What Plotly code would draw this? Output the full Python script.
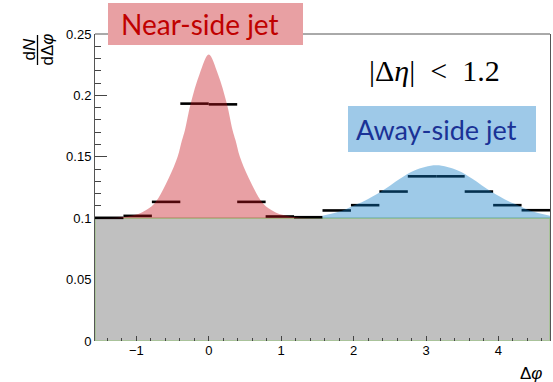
import numpy as np
import plotly.graph_objects as go

# ---- data -------------------------------------------------------------
PHI_MIN, PHI_MAX = -np.pi / 2, 3 * np.pi / 2
N_BINS = 16
PEDESTAL = 0.1

# per-bin correlation yield (black steps)
BIN_VALUES = [0.1003, 0.1019, 0.1133, 0.1933, 0.1927, 0.1133, 0.1014, 0.1008,
              0.1063, 0.1106, 0.1217, 0.1341, 0.1341, 0.1217, 0.1106, 0.1065]

# near-side peak shape
NEAR_X = [-1.571, -1.2, -1.0, -0.9, -0.75, -0.55, -0.43, -0.37, -0.33, -0.25, -0.125, 0.0,
          0.125, 0.25, 0.33, 0.37, 0.43, 0.55, 0.75, 0.9, 1.0, 1.2, 1.571]
NEAR_Y = [0.1000, 0.1008, 0.1030, 0.1055, 0.1120, 0.1330, 0.1500, 0.1634, 0.1715, 0.1932, 0.2176, 0.2333,
          0.2176, 0.1932, 0.1715, 0.1634, 0.1500, 0.1330, 0.1120, 0.1055, 0.1030, 0.1008, 0.1000]

# away-side peak shape
AWAY_X = [1.571, 1.84, 2.01, 2.14, 2.38, 2.64, 2.84, 3.1416,
          3.44, 3.64, 3.90, 4.14, 4.27, 4.44, 4.712]
AWAY_Y = [0.1020, 0.1060, 0.1106, 0.1138, 0.1217, 0.1322, 0.1389, 0.1431,
          0.1389, 0.1322, 0.1217, 0.1138, 0.1106, 0.1060, 0.1020]

Y_TICKS = [0, 0.05, 0.1, 0.15, 0.2, 0.25]
X_TICKS = [-1, 0, 1, 2, 3, 4]

# ---- layout helpers (pixel -> paper) ----------------------------------
W, H = 553, 382
ML, MR, MT, MB = 95, 3, 34, 41
PW, PH = W - ML - MR, H - MT - MB


def px(x):
    return (x - ML) / PW


def py(y):
    return (H - MB - y) / PH


fig = go.Figure()

# flat pedestal
fig.add_trace(go.Scatter(
    x=[PHI_MIN, PHI_MIN, PHI_MAX, PHI_MAX, PHI_MIN],
    y=[0, PEDESTAL, PEDESTAL, 0, 0],
    mode="lines", fill="toself", fillcolor="#c0c0c0",
    line=dict(color="#a2c48e", width=1.5), hoverinfo="skip"))

# histogram steps
edges = np.linspace(PHI_MIN, PHI_MAX, N_BINS + 1)
sx, sy = [], []
for i, v in enumerate(BIN_VALUES):
    sx += [edges[i], edges[i + 1], None]
    sy += [v, v, None]
fig.add_trace(go.Scatter(x=sx, y=sy, mode="lines",
                         line=dict(color="black", width=2.6), hoverinfo="skip"))

# near-side peak
fig.add_trace(go.Scatter(x=[NEAR_X[0], NEAR_X[-1]], y=[PEDESTAL, PEDESTAL],
                         mode="lines", line=dict(width=0), hoverinfo="skip"))
fig.add_trace(go.Scatter(x=NEAR_X, y=NEAR_Y, mode="lines", fill="tonexty",
                         fillcolor="rgba(198,18,28,0.4)",
                         line=dict(width=0, shape="spline", smoothing=1.0),
                         hoverinfo="skip"))

# away-side peak
fig.add_trace(go.Scatter(x=[AWAY_X[0], AWAY_X[-1]], y=[PEDESTAL, PEDESTAL],
                         mode="lines", line=dict(width=0), hoverinfo="skip"))
fig.add_trace(go.Scatter(x=AWAY_X, y=AWAY_Y, mode="lines", fill="tonexty",
                         fillcolor="rgba(13,123,198,0.4)",
                         line=dict(width=0, shape="spline", smoothing=1.0),
                         hoverinfo="skip"))

tick_font = dict(family="Liberation Sans, Arial, sans-serif", size=13, color="black")

fig.update_xaxes(
    range=[PHI_MIN, PHI_MAX], tickvals=X_TICKS, ticks="inside", ticklen=5,
    tickcolor="#444", tickwidth=1, showline=False, showgrid=False, zeroline=False,
    tickfont=tick_font, layer="above traces",
    minor=dict(dtick=0.2, tick0=0, ticks="inside", ticklen=3, tickcolor="#444"),
)
fig.update_yaxes(
    range=[0, 0.25], tickvals=Y_TICKS, ticks="inside", ticklen=12,
    tickcolor="#444", tickwidth=1, showline=True, linecolor="#555", linewidth=1,
    mirror=True, showgrid=False, zeroline=False, tickfont=tick_font,
    layer="below traces",
    minor=dict(dtick=0.01, tick0=0, ticks="inside", ticklen=6, tickcolor="#444"),
)

shapes = [
    # frame top
    dict(type="line", xref="paper", yref="paper", x0=0, x1=1, y0=1, y1=1,
         line=dict(color="#555", width=1)),
    # label boxes
    dict(type="rect", xref="paper", yref="paper", x0=px(108), x1=px(303),
         y0=py(45), y1=py(3), fillcolor="#e8a0a3", line=dict(width=0)),
    dict(type="rect", xref="paper", yref="paper", x0=px(348), x1=px(536),
         y0=py(152), y1=py(106), fillcolor="#9ec9e8", line=dict(width=0)),
    # fraction bar of the y title
    dict(type="line", xref="paper", yref="paper", x0=px(37.5), x1=px(37.5),
         y0=py(65), y1=py(35), line=dict(color="black", width=1.3)),
]


def label(text, x, y, font, **kw):
    return dict(text=text, x=px(x), y=py(y), xref="paper", yref="paper",
                xanchor=kw.pop("xanchor", "center"), yanchor="middle",
                showarrow=False, font=font, **kw)


annotations = [
    label("Near-side jet", 200, 24, dict(family="Lato", size=28, color="#c00000")),
    label("Away-side jet", 436, 129, dict(family="Lato", size=27, color="#1a3296")),
    label("|Δ<i>η</i>|&nbsp;&nbsp;<&nbsp;&nbsp;1.2", 434, 70,
          dict(family="Liberation Serif", size=30, color="black")),
    label("d<i>N</i>", 28.5, 50, dict(family="Liberation Sans", size=17, color="black"),
          textangle=-90),
    label("dΔ<i>φ</i>", 46.5, 50, dict(family="Liberation Sans", size=17, color="black"),
          textangle=-90),
    label("Δ<i>φ</i>", 544, 373, dict(family="Liberation Sans", size=17, color="black"),
          xanchor="right"),
]

fig.update_layout(
    width=W, height=H, margin=dict(l=ML, r=MR, t=MT, b=MB),
    paper_bgcolor="white", plot_bgcolor="white", showlegend=False,
    shapes=shapes, annotations=annotations,
)

fig.write_html("out.html")
